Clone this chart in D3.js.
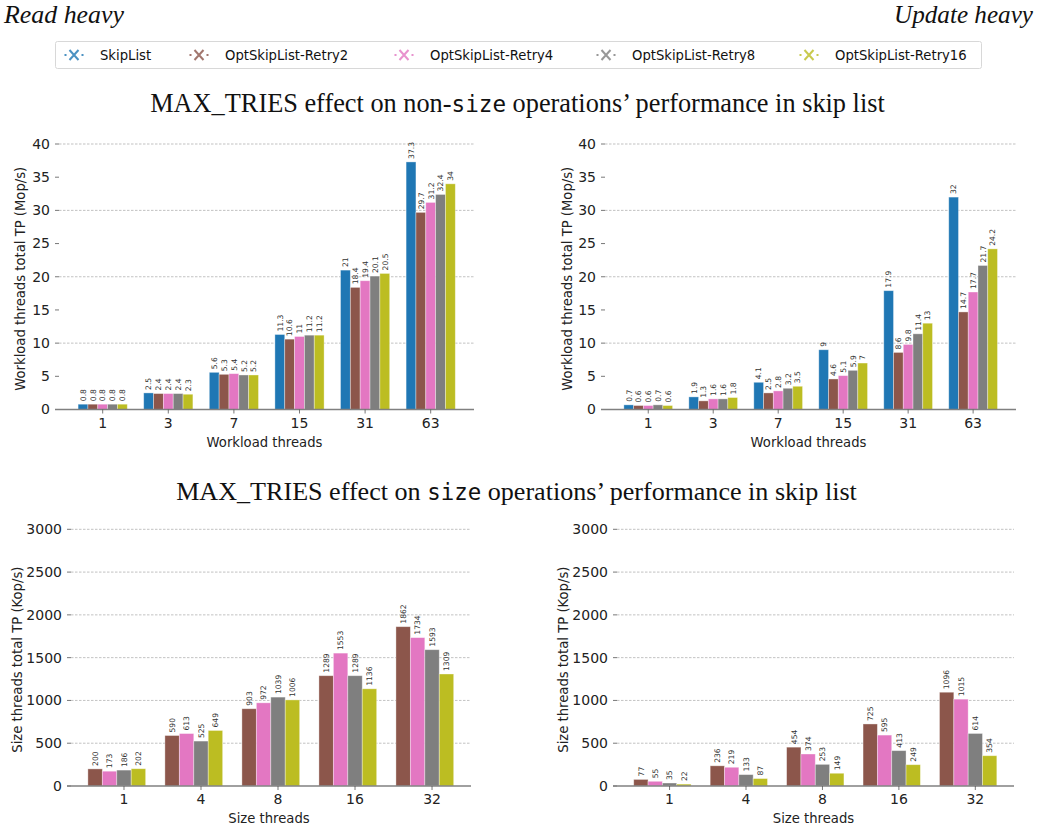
<!DOCTYPE html>
<html>
<head>
<meta charset="utf-8">
<script src="https://cdn.jsdelivr.net/npm/d3@7"></script>
<style>
  body { margin: 0; background: #fff; }
  svg { display: block; }
</style>
</head>
<body>
<svg id="chart" width="1046" height="827"></svg>
<script>
// ---- data ----
var seriesNames = ["SkipList", "OptSkipList-Retry2", "OptSkipList-Retry4", "OptSkipList-Retry8", "OptSkipList-Retry16"];
var colors = ["#1f77b4", "#8c564b", "#e377c2", "#7f7f7f", "#bcbd22"];

var workloadThreads = [1, 3, 7, 15, 31, 63];
var sizeThreads = [1, 4, 8, 16, 32];

// Mop/s, read heavy (left) / update heavy (right)
var readSkipList = [0.8, 2.5, 5.6, 11.3, 21, 37.3];
var readRetry2   = [0.8, 2.4, 5.3, 10.6, 18.4, 29.7];
var readRetry4   = [0.8, 2.4, 5.4, 11, 19.4, 31.2];
var readRetry8   = [0.8, 2.4, 5.2, 11.2, 20.1, 32.4];
var readRetry16  = [0.8, 2.3, 5.2, 11.2, 20.5, 34];

var updSkipList = [0.7, 1.9, 4.1, 9, 17.9, 32];
var updRetry2   = [0.6, 1.3, 2.5, 4.6, 8.6, 14.7];
var updRetry4   = [0.6, 1.6, 2.8, 5.1, 9.8, 17.7];
var updRetry8   = [0.7, 1.6, 3.2, 5.9, 11.4, 21.7];
var updRetry16  = [0.6, 1.8, 3.5, 7, 13, 24.2];

// Kop/s, size threads
var readSizeRetry2  = [200, 590, 903, 1289, 1862];
var readSizeRetry4  = [173, 613, 972, 1553, 1734];
var readSizeRetry8  = [186, 525, 1039, 1289, 1593];
var readSizeRetry16 = [202, 649, 1006, 1136, 1309];

var updSizeRetry2  = [77, 236, 454, 725, 1096];
var updSizeRetry4  = [55, 219, 374, 595, 1015];
var updSizeRetry8  = [35, 133, 253, 413, 614];
var updSizeRetry16 = [22, 87, 149, 249, 354];

var topTicks = [0, 5, 10, 15, 20, 25, 30, 35, 40];
var topGrid = [10, 20, 30, 40];
var bottomTicks = [0, 500, 1000, 1500, 2000, 2500, 3000];
var bottomGrid = [500, 1000, 1500, 2000, 2500, 3000];

var svg = d3.select("#chart");
var sansFont = "'DejaVu Sans', sans-serif";
var serifFont = "'Liberation Serif', 'DejaVu Serif', serif";
var monoFont = "'DejaVu Sans Mono', monospace";

// shrink/grow a text element so it spans the given width
function fitWidth(sel, target) {
    var fs = parseFloat(sel.attr("font-size"));
    var w = sel.node().getComputedTextLength();
    sel.attr("font-size", fs * target / w);
}

function drawPanel(opts) {
    var g = svg.append("g");
    var x = d3.scaleLinear().domain(opts.xDomain).range([opts.left, opts.right]);
    var y = d3.scaleLinear().domain([0, opts.yMax]).range([opts.bottom, opts.top]);
    var n = opts.series.length;
    var bw = 0.75 / n;

    // grid
    g.selectAll(".grid").data(opts.grid).enter().append("line")
        .attr("x1", opts.left + 4).attr("x2", opts.right)
        .attr("y1", d => y(d)).attr("y2", d => y(d))
        .attr("stroke", "#999").attr("stroke-width", 0.6)
        .attr("stroke-dasharray", "2.5,1.5");

    // y ticks + labels
    var yt = g.selectAll(".yt").data(opts.yTicks).enter().append("g")
        .attr("transform", d => "translate(0," + y(d) + ")");
    yt.append("line").attr("x1", opts.left).attr("x2", opts.left + 4)
        .attr("stroke", "#555").attr("stroke-width", 0.8);
    yt.append("text").attr("x", opts.left - 5).attr("dy", "0.35em")
        .attr("text-anchor", "end").attr("font-family", sansFont)
        .attr("font-size", 14).attr("fill", "#222").text(d => d);

    // bars
    opts.series.forEach(function(vals, k) {
        var off = (k - 2) * bw;
        var col = opts.colors[k];
        g.selectAll(".bar" + k).data(vals).enter().append("rect")
            .attr("x", (d, i) => x(i + off - bw / 2))
            .attr("width", x(bw) - x(0))
            .attr("y", d => y(d))
            .attr("height", d => y(0) - y(d))
            .attr("fill", col)
            .attr("stroke", "#fff").attr("stroke-opacity", 0.45).attr("stroke-width", 0.8);
        g.selectAll(".lab" + k).data(vals).enter().append("text")
            .attr("transform", (d, i) => "translate(" + (x(i + off) + 2.8) + "," + (y(d) - 3) + ") rotate(-90)")
            .attr("font-family", sansFont).attr("font-size", 7.6).attr("fill", "#333")
            .text(d => d);
    });

    // x axis
    g.append("line").attr("x1", opts.left).attr("x2", opts.right)
        .attr("y1", opts.bottom).attr("y2", opts.bottom)
        .attr("stroke", "#808080").attr("stroke-width", 1.5);
    var xt = g.selectAll(".xt").data(opts.cats).enter().append("g")
        .attr("transform", (d, i) => "translate(" + x(i) + "," + opts.bottom + ")");
    xt.append("line").attr("y1", 0).attr("y2", 4).attr("stroke", "#555").attr("stroke-width", 0.8);
    xt.append("text").attr("y", 18).attr("text-anchor", "middle")
        .attr("font-family", sansFont).attr("font-size", 14).attr("fill", "#222").text(d => d);

    g.append("text").attr("x", (opts.left + opts.right) / 2).attr("y", opts.bottom + 37)
        .attr("text-anchor", "middle").attr("font-family", sansFont)
        .attr("font-size", 13.2).attr("fill", "#222").text(opts.xLabel);

    g.append("text")
        .attr("transform", "translate(" + opts.yLabelX + "," + ((opts.top + opts.bottom) / 2 + 2) + ") rotate(-90)")
        .attr("text-anchor", "middle").attr("font-family", sansFont)
        .attr("font-size", 13.2).attr("fill", "#222").text(opts.yLabel);
}

var topDomain = [-0.727, 5.66];
var botDomain = [-0.74, 4.506];

drawPanel({
    left: 55, right: 474, top: 144, bottom: 409.5, yMax: 40,
    xDomain: topDomain, cats: workloadThreads, yTicks: topTicks, grid: topGrid,
    series: [readSkipList, readRetry2, readRetry4, readRetry8, readRetry16],
    colors: colors, xLabel: "Workload threads",
    yLabel: "Workload threads total TP (Mop/s)", yLabelX: 25
});
drawPanel({
    left: 601, right: 1016, top: 144, bottom: 409.5, yMax: 40,
    xDomain: topDomain, cats: workloadThreads, yTicks: topTicks, grid: topGrid,
    series: [updSkipList, updRetry2, updRetry4, updRetry8, updRetry16],
    colors: colors, xLabel: "Workload threads",
    yLabel: "Workload threads total TP (Mop/s)", yLabelX: 572
});
drawPanel({
    left: 67, right: 471, top: 529.3, bottom: 786, yMax: 3000,
    xDomain: botDomain, cats: sizeThreads, yTicks: bottomTicks, grid: bottomGrid,
    series: [readSizeRetry2, readSizeRetry4, readSizeRetry8, readSizeRetry16],
    colors: colors.slice(1), xLabel: "Size threads",
    yLabel: "Size threads total TP (Kop/s)", yLabelX: 22
});
drawPanel({
    left: 613, right: 1014, top: 529.3, bottom: 786, yMax: 3000,
    xDomain: botDomain, cats: sizeThreads, yTicks: bottomTicks, grid: bottomGrid,
    series: [updSizeRetry2, updSizeRetry4, updSizeRetry8, updSizeRetry16],
    colors: colors.slice(1), xLabel: "Size threads",
    yLabel: "Size threads total TP (Kop/s)", yLabelX: 568
});

// ---- headings ----
var rh = svg.append("text").attr("x", 4).attr("y", 23)
    .attr("font-family", serifFont).attr("font-style", "italic")
    .attr("font-size", 22).attr("fill", "#111").text("Read heavy");
fitWidth(rh, 120);
var uh = svg.append("text").attr("x", 1033).attr("y", 23).attr("text-anchor", "end")
    .attr("font-family", serifFont).attr("font-style", "italic")
    .attr("font-size", 22).attr("fill", "#111").text("Update heavy");
fitWidth(uh, 139);

function title(parts, cx, baseline, width) {
    var t = svg.append("text").attr("x", cx).attr("y", baseline)
        .attr("text-anchor", "middle").attr("font-family", serifFont)
        .attr("font-size", 22).attr("fill", "#111");
    parts.forEach(function(p) {
        t.append("tspan").attr("font-family", p.mono ? monoFont : serifFont)
            .attr("font-size", p.mono ? "0.86em" : "1em").text(p.s);
    });
    fitWidth(t, width);
}
title([{s: "MAX_TRIES effect on non-"}, {s: "size", mono: true}, {s: " operations\u2019 performance in skip list"}], 517.5, 112, 735);
title([{s: "MAX_TRIES effect on "}, {s: "size", mono: true}, {s: " operations\u2019 performance in skip list"}], 516.5, 500, 681);

// ---- legend ----
var leg = svg.append("g");
leg.append("rect").attr("x", 55.5).attr("y", 41.5).attr("width", 926).attr("height", 27)
    .attr("rx", 2).attr("fill", "#fff").attr("stroke", "#d8d8d8").attr("stroke-width", 1);
var legText = [100, 225, 430, 632, 835];
seriesNames.forEach(function(name, i) {
    var tx = legText[i], hx = tx - 26, cy = 55;
    var h = leg.append("g").attr("opacity", 0.8);
    h.append("rect").attr("x", hx - 9.5).attr("y", cy - 1).attr("width", 2).attr("height", 2).attr("fill", colors[i]);
    h.append("rect").attr("x", hx + 7.5).attr("y", cy - 1).attr("width", 2).attr("height", 2).attr("fill", colors[i]);
    h.append("path").attr("d", "M" + (hx - 4.5) + "," + (cy - 5) + "L" + (hx + 4.5) + "," + (cy + 5) +
            "M" + (hx - 4.5) + "," + (cy + 5) + "L" + (hx + 4.5) + "," + (cy - 5))
        .attr("stroke", colors[i]).attr("stroke-width", 2).attr("fill", "none");
    leg.append("text").attr("x", tx).attr("y", cy).attr("dy", "0.35em")
        .attr("font-family", sansFont).attr("font-size", 13.2).attr("fill", "#111").text(name);
});
</script>
</body>
</html>
